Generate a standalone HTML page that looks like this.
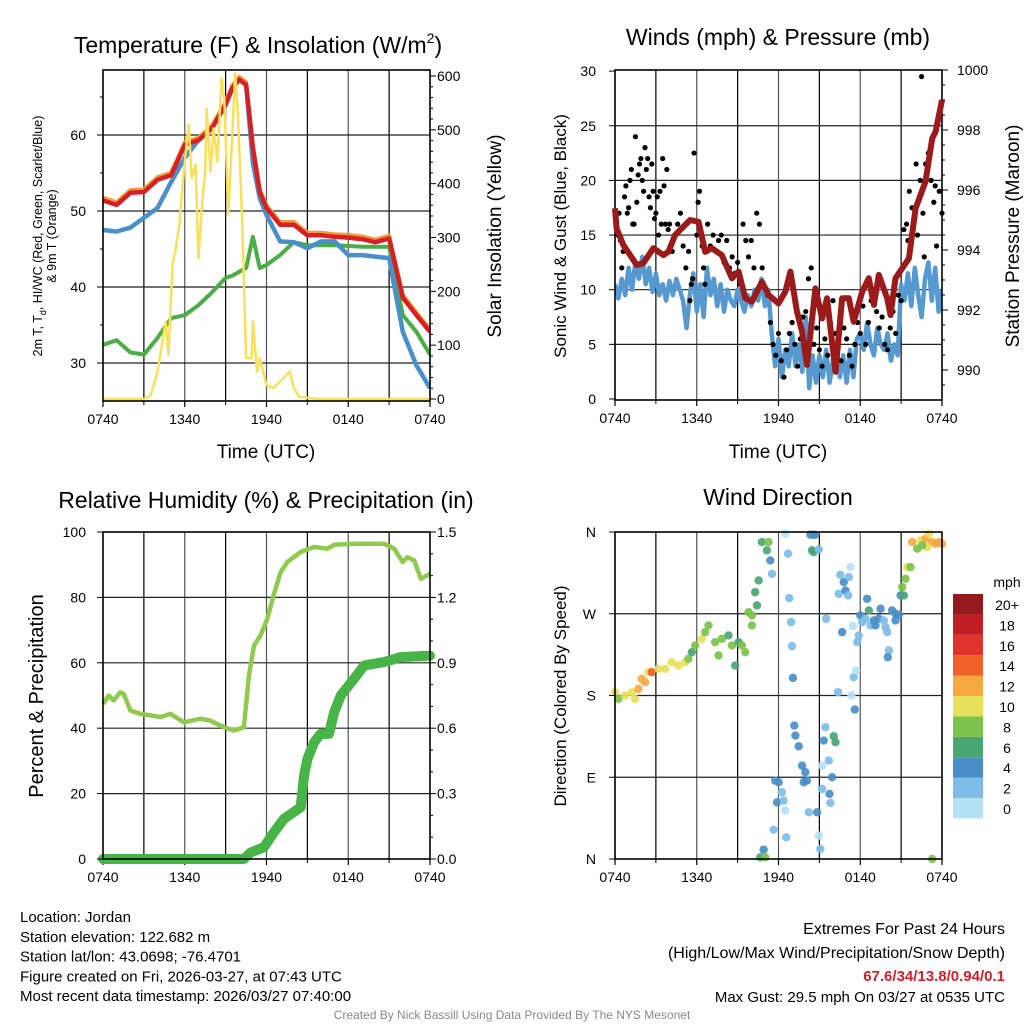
<!DOCTYPE html>
<html><head><meta charset="utf-8"><style>
html,body{margin:0;padding:0;background:#fff;width:1024px;height:1024px;overflow:hidden}
svg{display:block;font-family:"Liberation Sans",Arial,sans-serif}
</style></head><body>
<svg id="chart" width="1024" height="1024" viewBox="0 0 1024 1024" xmlns="http://www.w3.org/2000/svg"></svg>
<script>
// ---------- DATA ----------
const tempHours = [0,1,2,3,4,5,6,7,8,9,9.5,10,10.5,11,11.5,12,13,14,15,16,17,18,19,20,21,22,23,24];
const tempRed = [51.4,50.8,52.4,52.5,54.1,54.7,58.7,59.3,60.9,64.0,66.2,67.3,66.6,58.3,52.5,50.4,48.2,48.2,46.8,46.8,46.6,46.5,46.3,45.9,46.4,38.6,36.3,34.1];
const tempBlue = [47.5,47.3,47.8,49.1,50.4,53.8,57.0,59.3,60.9,64.0,66.2,67.3,66.6,56.3,51.7,49.5,46.0,45.9,45.1,46.0,46.0,44.2,44.2,44.0,43.8,34.1,29.7,26.7];
const tempGreen = [32.4,33.0,31.4,31.1,33.3,35.9,36.3,37.6,39.3,41.2,41.5,42.0,42.5,46.6,42.5,42.9,44.2,45.9,45.5,45.5,45.5,45.4,45.3,45.3,45.3,36.3,34.1,31.1];
const solarHours = [0,3,3.5,4,4.6,4.8,5.1,5.3,5.6,5.8,6.1,6.3,6.5,6.8,7.0,7.3,7.5,7.6,7.9,8.1,8.4,8.7,8.9,9.2,9.5,9.7,9.9,10.2,10.5,10.9,11.0,11.3,11.5,12.0,12.5,13.2,13.7,14.0,14.4,15.7,24];
const solarVals = [0,0,7,51,144,82,249,274,323,385,466,509,410,435,261,373,422,540,422,503,441,596,559,342,497,605,528,342,76,76,144,51,76,26,20,38,51,20,4,0,0];
const windHours = [];
for (let i = 0; i <= 96; i++) windHours.push(i / 4);
const windVals = [10.5,9.2,11.0,9.5, 12.0,10.0,12.5,11.0, 13.0,10.5,12.0,9.8, 11.5,9.5,10.5,9.0, 10.8,9.5,11.0,10.0, 9.0,6.5,9.5,11.5, 8.0,10.5,7.5,12.0, 9.5,11.0,8.5,10.5, 8.0,10.0,9.0,8.5, 10.0,9.0,8.0,9.5, 8.5,10.0,9.0,11.0, 8.5,10.0,6.0,3.0, 5.5,2.0,4.5,3.0, 6.0,3.0,5.0,2.5, 7.5,1.0,4.0,1.5, 4.0,2.0,4.5,1.5, 3.5,5.0,2.0,4.0, 1.5,4.5,2.0,5.5, 6.0,4.5,7.0,5.0, 4.0,6.5,5.0,4.5, 6.0,3.5,5.0,4.0, 10.5,9.0,11.5,8.5, 12.0,9.5,7.5,11.0, 12.5,9.0,12.0,8.0, 10.0];
const gustHours = [0.1,0.2,0.3,0.4,0.5,0.6,0.7,0.8,0.9,1.0,1.1,1.2,1.3,1.4,1.5,1.6,1.7,1.8,1.9,2.0,2.1,2.2,2.3,2.4,2.5,2.6,2.7,2.8,2.9,3.0,3.1,3.2,3.3,3.4,3.5,3.6,3.7,3.8,3.9,4.0,4.2,4.4,4.6,4.8,5.0,5.2,5.4,5.5,5.6,5.7,5.8,6.0,6.1,6.2,6.4,6.5,6.6,6.8,7.0,7.2,7.4,7.6,7.8,8.0,8.2,8.4,8.6,8.8,9.0,9.2,9.4,9.6,9.8,10.0,10.2,10.4,10.6,10.8,11.2,11.4,11.6,11.8,12.0,12.2,12.4,12.6,12.8,13.0,13.2,13.4,13.6,13.8,14.0,14.2,14.4,14.6,14.8,15.0,15.2,15.4,15.6,15.8,16.0,16.2,16.4,16.6,16.8,17.0,17.2,17.4,17.6,17.8,18.0,18.2,18.4,18.6,18.8,19.0,19.2,19.4,19.6,19.8,20.0,20.2,20.4,20.6,20.8,21.0,21.2,21.4,21.6,21.8,22.0,22.2,22.4,22.6,22.8,23.0,23.2,23.4,23.6,23.8,24.0,22.5,22.7,23.5,22.1,21.5];
const gustVals = [16,15,17,14.5,12,13.5,18.5,19.5,17,17.5,20,21,16,16,24,18,20.5,21.5,22,20,19,23,21,22,18.5,17.5,21.5,19,16.5,17,18.5,15,19,16,22,19.5,16,21,15.5,16,13.5,15,16,17,14,12,13.5,9,10.5,11,22.5,15,18,19,14,12,10.5,16,14,15,13.5,14.5,15,12.5,14.5,12,13,11.5,12.5,10.5,16,14.5,13,14.5,12,17,16,12,9.5,7,5,4,6,3.5,2,4.5,6,7,5,3,5.5,7.5,8,11,12,5,6.5,4.5,3,5.5,4,7,9,6,5,3.5,6.5,5.5,4,3,5,7,6,8.5,5,7,9,10,8,6.5,7.5,5,4.5,6.5,8,6,9.5,9,15.5,16,19,17.5,16.5,15,20,17,21.5,22.5,20,18,14,19,17,29.5,13,19.5,21.5,14.5];
const presHours = [0,0.12,0.61,1.59,2.08,2.82,3.55,3.92,4.41,5.51,6.13,6.62,7.11,7.84,8.58,9.07,9.56,10.05,10.78,11.27,12.0,12.5,12.87,13.36,13.73,14.09,14.71,15.2,15.56,16.18,16.67,17.16,17.52,18.14,18.63,19.0,19.36,19.98,20.22,20.59,21.08,21.57,22.06,22.79,23.28,23.53,24];
const presVals = [995.39,994.72,994.17,993.5,993.56,994.06,993.83,993.94,994.5,995.0,994.94,993.94,994.06,993.83,993.06,993.28,992.39,992.28,992.94,992.5,992.22,992.61,993.28,991.94,991.28,990.17,992.72,991.72,992.39,989.94,992.39,992.39,991.61,992.61,993.06,992.17,993.17,992.39,991.83,993.06,993.39,993.72,995.39,996.28,997.72,997.94,999.0];
const rhHours = [0,0.42,0.78,1.27,1.52,2.01,2.75,3.48,4.22,4.95,5.93,7.16,7.89,8.87,9.61,10.34,10.71,11.08,11.57,12.06,12.55,13.04,13.53,14.51,15.49,16.47,16.96,18.43,20.64,21.37,21.99,22.35,22.84,23.33,24];
const rhVals = [47.4,50,48.5,51,50.5,45.4,44.4,43.9,43.4,44.4,41.8,42.9,42.3,40.3,39.3,40.3,56.1,65.3,68.4,73.5,81.1,87.8,90.8,93.9,95.4,94.9,96.1,96.4,96.4,94.9,90.8,92.3,91.3,85.7,87.2];
const precipHours = [0,10.34,10.83,11.81,12.55,13.28,14.51,14.63,14.76,15.0,15.49,15.98,16.59,16.96,17.45,18.43,19.17,20.64,21.86,24];
const precipVals = [0,0,0.03,0.054,0.123,0.184,0.237,0.306,0.383,0.459,0.536,0.574,0.574,0.673,0.75,0.827,0.888,0.903,0.926,0.933];
const dirHours = [0,0.25,0.74,1.23,1.47,1.72,1.96,2.21,2.45,2.70,3.19,3.68,4.17,4.66,5.15,5.39,5.64,5.88,6.37,6.62,6.86,7.35,7.60,7.84,8.33,8.58,8.82,9.07,9.31,9.56,10.05,10.05,9.80,10.42,10.29,10.54,10.78,11.27,11.15,
 11.40,11.52,12.50,12.70,12.79,12.92,12.99,13.06,13.16,13.24,13.48,13.73,13.97,13.85,14.09,11.76,12.01,12.25,11.89,12.38,12.50,11.64,12.57,10.91,10.66,11.03,14.22,14.34,14.58,14.71,14.46,14.58,14.95,14.83,14.95,15.07,15.20,15.20,15.44,15.69,15.32,16.05,16.18,15.93,15.74,15.81,16.37,15.49,16.54,16.79,16.67,16.42,16.91,17.11,17.16,17.28,17.35,17.45,17.52,17.60,17.70,17.77,17.89,18.01,18.14,18.38,18.50,18.63,18.75,19.00,19.12,19.36,19.49,19.73,19.85,19.98,20.10,20.02,20.34,20.59,20.83,20.59,20.96,21.20,21.08,21.32,21.45,21.69,21.81,22.18,22.43,22.79,23.04,23.28,23.53,23.77,24.0,22.92,22.55,23.28];
const dirDegs = [183.7,176.3,180,183.7,176.3,187.3,198.3,194.7,205.7,205.7,209.4,209.4,216.7,213.0,216.7,220.4,227.7,235.1,242.4,249.8,257.1,238.7,224.1,242.4,246.1,235.1,213.0,238.7,235.1,227.7,257.1,268.1,271.8,279.1,293.8,306.7,348.9,348.9,339.8,
 328.7,314.0,358.1,336.1,287.2,260.8,234.3,199.4,146.9,135.9,124.1,102.8,95.5,84.5,86.3,86.3,84.5,73.5,62.4,64.3,53.3,32.3,23.9,10.3,1.8,1.8,51.4,357.0,357.0,357.0,339.8,337.9,340.9,51.4,25.7,11.0,102.8,77.1,145.1,108.4,130.4,135.2,128.6,90.0,71.6,61.7,183.7,264.5,312.9,304.9,249.8,292.0,295.7,290.2,310.4,321.4,180.0,256.4,200.2,164.6,207.5,238.7,246.1,268.1,260.8,264.5,286.5,273.6,257.1,262.6,257.1,264.5,275.5,262.6,255.3,249.8,229.6,222.2,273.6,270.0,268.9,262.6,290.2,290.2,299.3,308.5,321.4,321.4,348.9,341.6,350.8,352.6,358.1,348.9,347.1,348.9,347.1,343.4,345.3,0];
const dirSpeeds = [10,8,10,10,10,12,12,12,10,14,10,10,10,10,10,8,6,8,10,8,8,8,8,8,6,8,6,6,8,8,8,8,8,6,6,6,6,8,6,
 4,2,0,2,2,2,2,4,4,4,4,4,4,4,4,4,4,2,4,2,0,2,2,4,6,8,2,4,4,4,6,6,2,4,0,2,0,2,2,2,4,6,6,4,4,2,2,2,2,4,4,2,4,2,2,0,0,0,2,4,0,2,2,4,2,2,4,6,2,4,4,4,4,2,2,2,2,4,4,4,4,4,4,6,8,8,10,8,12,8,10,12,10,12,12,12,12,10,8,8];
const tempTicks = [30,40,50,60];
const solarTicks = [0,100,200,300,400,500,600];
const windTicks = [0,5,10,15,20,25,30];
const presTicks = [990,992,994,996,998,1000];
const pctTicks = [0,20,40,60,80,100];
const inchTicks = ["0.0","0.3","0.6","0.9","1.2","1.5"];
const dirTicks = [0,90,180,270,360];
const dirTickLabels = ["N","E","S","W","N"];
const timeTickLabels = ["0740","1340","1940","0140","0740"];
const speedBins = ["0","2","4","6","8","10","12","14","16","18","20+"];
const speedColors = ["#b4e1f6","#7dbde7","#4a8ec7","#4aa673","#7cc24b","#e7e05a","#f7a841","#f0622a","#e0332b","#bf1e25","#951a1e"];

// ---------- HELPERS ----------
const NS = "http://www.w3.org/2000/svg";
const svg = document.getElementById("chart");
function mk(tag, attrs, parent) {
  const el = document.createElementNS(NS, tag);
  for (const k in attrs) el.setAttribute(k, attrs[k]);
  (parent || svg).appendChild(el);
  return el;
}
function txt(s, attrs, parent) { const t = mk("text", attrs, parent); t.textContent = s; return t; }
function linePath(xs, ys, sx, sy) {
  let d = "";
  for (let i = 0; i < xs.length; i++) d += (i ? "L" : "M") + sx(xs[i]).toFixed(1) + " " + sy(ys[i]).toFixed(1);
  return d;
}
function panelFrame(g, x0, x1, y0, y1, hGridYs) {
  for (let h = 3; h < 24; h += 3) {
    const x = x0 + h * (x1 - x0) / 24;
    const gl = mk("line", {x1: x, x2: x, y1: y0, y2: y1, stroke: (h % 6 === 0) ? "#555" : "#000", "stroke-width": 1.2}, g);
    
    
  }
  hGridYs.forEach(y => {
    const gl = mk("line", {x1: x0, x2: x1, y1: y, y2: y, stroke: "#222", "stroke-width": 1.2}, g);
    
    
  });
  for (let i = 0; i <= 4; i++) {
    const x = x0 + i * (x1 - x0) / 4;
    mk("line", {x1: x, x2: x, y1: y1, y2: y1 + 6, stroke: "#000", "stroke-width": 1.2}, g);
    const t = txt(timeTickLabels[i], {x: x, y: y1 + 23, "font-size": 14, "text-anchor": "middle"}, g);
    
    
  }
  for (let h = 3; h < 24; h += 6) {
    const x = x0 + h * (x1 - x0) / 24;
    mk("line", {x1: x, x2: x, y1: y1, y2: y1 + 4, stroke: "#000", "stroke-width": 1}, g);
  }
}
function border(g, x0, x1, y0, y1) {
  const r = mk("rect", {x: x0, y: y0, width: x1 - x0, height: y1 - y0, fill: "none", stroke: "#000", "stroke-width": 1.6}, g);
  
  
}

// ---------- PANEL 1 ----------
(function () {
  const x0 = 103, x1 = 430, y0 = 70, y1 = 401;
  const g = mk("g", {});
  
  
  const sx = h => x0 + h * (x1 - x0) / 24;
  const sy = T => 401 - (T - 25) * 7.6;
  const ss = S => 399 - S * 0.5383;
  panelFrame(g, x0, x1, y0, y1, tempTicks.map(sy));
  const clip = mk("clipPath", {id: "c1"}, g);
  mk("rect", {x: x0, y: y0, width: x1 - x0, height: y1 - y0}, clip);
  const d = mk("g", {"clip-path": "url(#c1)"}, g);
  let p;
  p = mk("path", {d: linePath(tempHours, tempGreen, sx, sy), fill: "none", stroke: "#4aae44", "stroke-width": 4, "stroke-linejoin": "round"}, d);
  
  
  p = mk("path", {d: linePath(tempHours, tempBlue, sx, sy), fill: "none", stroke: "#4a90c8", "stroke-width": 4.5, "stroke-linejoin": "round"}, d);
  
  
  p = mk("path", {d: linePath(tempHours, tempRed.map(v => v + 0.35), sx, sy), fill: "none", stroke: "#f59a3a", "stroke-width": 4, "stroke-linejoin": "round"}, d);
  
  
  p = mk("path", {d: linePath(tempHours, tempRed, sx, sy), fill: "none", stroke: "#d62027", "stroke-width": 4.5, "stroke-linejoin": "round"}, d);
  
  
  p = mk("path", {d: linePath(solarHours, solarVals, sx, ss), fill: "none", stroke: "#f9e05a", "stroke-width": 2.5, "stroke-linejoin": "round"}, d);
  
  
  for (let T = 30; T <= 65; T += 5) {
    mk("line", {x1: x0 - (T % 10 ? 3 : 6), x2: x0, y1: sy(T), y2: sy(T), stroke: "#000"}, g);
  }
  tempTicks.forEach(T => {
    const t = txt(T, {x: 86, y: sy(T) + 5, "font-size": 14, "text-anchor": "end"}, g);
    
    
  });
  for (let S = 0; S <= 600; S += 20) mk("line", {x1: x1, x2: x1 + (S % 100 ? 3 : 6), y1: ss(S), y2: ss(S), stroke: "#000"}, g);
  solarTicks.forEach(S => {
    const t = txt(S, {x: 437, y: ss(S) + 5, "font-size": 14}, g);
    
    
  });
  border(g, x0, x1, y0, y1);
  let t = txt("Temperature (F) & Insolation (W/m", {x: 258, y: 53, "font-size": 23, "text-anchor": "middle"}, g);
  const sup = mk("tspan", {dy: -10, "font-size": 14}, t); sup.textContent = "2";
  const rp = mk("tspan", {dy: 10}, t); rp.textContent = ")";
  
  
  t = txt("Time (UTC)", {x: 266, y: 458, "font-size": 19, "text-anchor": "middle"}, g);
  
  
  t = txt("Solar Insolation (Yellow)", {x: 0, y: 0, "font-size": 19, "text-anchor": "middle", transform: "translate(501,236) rotate(-90)"}, g);
  
  
  t = txt("2m T, T", {x: 0, y: 0, "font-size": 12.5, "text-anchor": "middle", transform: "translate(42,236) rotate(-90)"}, g);
  const sub = mk("tspan", {dy: 4, "font-size": 9}, t); sub.textContent = "d";
  const rest = mk("tspan", {dy: -4}, t); rest.textContent = ", HI/WC (Red, Green, Scarlet/Blue)";
  
  
  t = txt("& 9m T (Orange)", {x: 0, y: 0, "font-size": 12.5, "text-anchor": "middle", transform: "translate(56,236) rotate(-90)"}, g);
  
  
})();

// ---------- PANEL 2 ----------
(function () {
  const x0 = 615, x1 = 942, y0 = 70, y1 = 400;
  const g = mk("g", {});
  
  
  const sx = h => x0 + h * (x1 - x0) / 24;
  const sy = w => 399 - w * 10.93;
  const sp = p => 370 - (p - 990) * 30;
  panelFrame(g, x0, x1, y0, y1, windTicks.filter(w => w > 0 && w < 30).map(sy));
  const clip = mk("clipPath", {id: "c2"}, g);
  mk("rect", {x: x0, y: y0, width: x1 - x0, height: y1 - y0}, clip);
  const d = mk("g", {"clip-path": "url(#c2)"}, g);
  let p = mk("path", {d: linePath(windHours, windVals, sx, sy), fill: "none", stroke: "#5699d0", "stroke-width": 4.5, "stroke-linejoin": "round"}, d);
  
  
  for (let i = 0; i < gustHours.length; i++) {
    const c = mk("circle", {cx: sx(gustHours[i]), cy: sy(gustVals[i]), r: 2.6, fill: "#000"}, svg);
    
    
  }
  p = mk("path", {d: linePath(presHours, presVals, sx, sp), fill: "none", stroke: "#9b1a1a", "stroke-width": 6, "stroke-linejoin": "round"}, svg);
  
  
  windTicks.forEach(w => {
    mk("line", {x1: x0 - 6, x2: x0, y1: sy(w), y2: sy(w), stroke: "#000"}, g);
    const t = txt(w, {x: 596, y: sy(w) + 5, "font-size": 14, "text-anchor": "end"}, g);
    
    
  });
  for (let pr = 989.5; pr <= 1000; pr += 0.5) mk("line", {x1: x1, x2: x1 + (pr % 2 === 0 ? 6 : 3), y1: sp(pr), y2: sp(pr), stroke: "#000"}, g);
  presTicks.forEach(pr => {
    const t = txt(pr, {x: 957, y: sp(pr) + 5, "font-size": 14}, g);
    
    
  });
  border(g, x0, x1, y0, y1);
  let t = txt("Winds (mph) & Pressure (mb)", {x: 778, y: 45, "font-size": 23, "text-anchor": "middle"}, g);
  
  
  t = txt("Time (UTC)", {x: 778, y: 458, "font-size": 19, "text-anchor": "middle"}, g);
  
  
  t = txt("Sonic Wind & Gust (Blue, Black)", {x: 0, y: 0, "font-size": 17, "text-anchor": "middle", transform: "translate(566,236) rotate(-90)"}, g);
  
  
  t = txt("Station Pressure (Maroon)", {x: 0, y: 0, "font-size": 19, "text-anchor": "middle", transform: "translate(1019,236) rotate(-90)"}, g);
  
  
})();

// ---------- PANEL 3 ----------
(function () {
  const x0 = 103, x1 = 430, y0 = 532, y1 = 859;
  const g = mk("g", {});
  
  
  const sx = h => x0 + h * (x1 - x0) / 24;
  const sy = v => 859 - v * 3.27;
  const si = v => 859 - v / 1.5 * 327;
  panelFrame(g, x0, x1, y0, y1, pctTicks.filter(v => v > 0 && v < 100).map(sy));
  let p = mk("path", {d: linePath(rhHours, rhVals, sx, sy), fill: "none", stroke: "#8fca4f", "stroke-width": 4.5, "stroke-linejoin": "round"}, g);
  
  
  p = mk("path", {d: linePath(precipHours, precipVals, sx, si), fill: "none", stroke: "#46b446", "stroke-width": 10, "stroke-linejoin": "round", "stroke-linecap": "round"}, g);
  
  
  pctTicks.forEach(v => {
    mk("line", {x1: x0 - 6, x2: x0, y1: sy(v), y2: sy(v), stroke: "#000"}, g);
    const t = txt(v, {x: 86, y: sy(v) + 5, "font-size": 14, "text-anchor": "end"}, g);
    
    
  });
  for (let k = 0; k <= 15; k++) mk("line", {x1: x1, x2: x1 + (k % 3 ? 3 : 6), y1: si(k / 10), y2: si(k / 10), stroke: "#000"}, g);
  inchTicks.forEach(s => {
    const t = txt(s, {x: 437, y: si(parseFloat(s)) + 5, "font-size": 14}, g);
    
    
  });
  border(g, x0, x1, y0, y1);
  let t = txt("Relative Humidity (%) & Precipitation (in)", {x: 266, y: 508, "font-size": 23, "text-anchor": "middle"}, g);
  
  
  t = txt("Percent & Precipitation", {x: 0, y: 0, "font-size": 20, "text-anchor": "middle", transform: "translate(43,696) rotate(-90)"}, g);
  
  
})();

// ---------- PANEL 4 ----------
(function () {
  const x0 = 615, x1 = 942, y0 = 532, y1 = 859;
  const g = mk("g", {});
  
  
  const sx = h => x0 + h * (x1 - x0) / 24;
  const sy = deg => 859 - deg * 327 / 360;
  panelFrame(g, x0, x1, y0, y1, dirTicks.filter(v => v > 0 && v < 360).map(sy));
  for (let i = 0; i < dirHours.length; i++) {
    const bin = Math.min(10, Math.floor(dirSpeeds[i] / 2));
    const c = mk("circle", {cx: sx(dirHours[i]), cy: sy(dirDegs[i]), r: 4.2, fill: speedColors[bin], "fill-opacity": 0.92}, g);
    
    
  }
  dirTicks.forEach((v, i) => {
    mk("line", {x1: x0 - 6, x2: x0, y1: sy(v), y2: sy(v), stroke: "#000"}, g);
    const t = txt(dirTickLabels[i], {x: 596, y: sy(v) + 5, "font-size": 14, "text-anchor": "end"}, g);
    
    
  });
  border(g, x0, x1, y0, y1);
  let t = txt("Wind Direction", {x: 778, y: 505, "font-size": 23, "text-anchor": "middle"}, g);
  
  
  t = txt("Direction (Colored By Speed)", {x: 0, y: 0, "font-size": 17, "text-anchor": "middle", transform: "translate(566,696) rotate(-90)"}, g);
  
  
  const cb = mk("g", {}, g);
  
  
  const top = 594, bh = 20.4;
  for (let i = 0; i < speedBins.length; i++) {
    const y = top + (speedBins.length - 1 - i) * bh;
    const r = mk("rect", {x: 953, y: y, width: 30, height: bh, fill: speedColors[i]}, cb);
    
    
    const lt = txt(speedBins[i], {x: 1007, y: y + 16, "font-size": 14, "text-anchor": "middle"}, cb);
    
    
  }
  t = txt("mph", {x: 1007, y: 587, "font-size": 14, "text-anchor": "middle"}, cb);
  
  
})();

// ---------- FOOTER TEXT ----------
(function () {
  const left = ["Location: Jordan", "Station elevation: 122.682 m", "Station lat/lon: 43.0698; -76.4701", "Figure created on Fri, 2026-03-27, at 07:43 UTC", "Most recent data timestamp: 2026/03/27 07:40:00"];
  const g = mk("g", {});
  
  
  left.forEach((s, i) => {
    const t = txt(s, {x: 20, y: 922 + i * 19.8, "font-size": 15}, g);
    
    
  });
  const g2 = mk("g", {});
  
  
  let t = txt("Extremes For Past 24 Hours", {x: 1005, y: 934, "font-size": 16, "text-anchor": "end"}, g2);
  
  
  t = txt("(High/Low/Max Wind/Precipitation/Snow Depth)", {x: 1005, y: 958, "font-size": 16, "text-anchor": "end"}, g2);
  
  
  t = txt("67.6/34/13.8/0.94/0.1", {x: 1005, y: 981, "font-size": 15, "font-weight": "bold", fill: "#d0202a", "text-anchor": "end"}, g2);
  
  
  t = txt("Max Gust: 29.5 mph On 03/27 at 0535 UTC", {x: 1005, y: 1002, "font-size": 15, "text-anchor": "end"}, g2);
  
  
  t = txt("Created By Nick Bassill Using Data Provided By The NYS Mesonet", {x: 512, y: 1019, "font-size": 12, fill: "#888", "text-anchor": "middle"});
  
  
})();
</script>
</body></html>
